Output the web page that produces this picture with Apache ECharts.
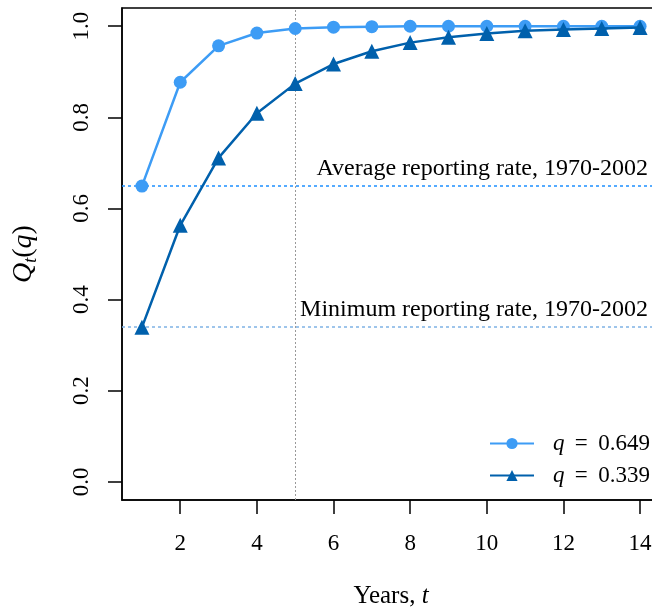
<!DOCTYPE html>
<html><head><meta charset="utf-8">
<script src="https://cdn.jsdelivr.net/npm/echarts@6/dist/echarts.min.js"></script>
<style>html,body{margin:0;padding:0;background:#fff}#c{width:652px;height:613px}</style>
</head><body><div id="c"></div>
<script>
const years = [1,2,3,4,5,6,7,8,9,10,11,12,13,14];
const qHigh = [0.649,0.877,0.957,0.985,0.995,0.998,0.999,1.0,1.0,1.0,1.0,1.0,1.0,1.0];
const qLow  = [0.339,0.563,0.711,0.809,0.874,0.917,0.945,0.964,0.976,0.984,0.990,0.993,0.995,0.997];
const xTicks = [2,4,6,8,10,12,14];
const yTicks = [0,0.2,0.4,0.6,0.8,1.0];
const avgRate = 0.649, minRate = 0.339, refYear = 5;
const seriesNames = ['q = 0.649','q = 0.339'];

const F = 'Liberation Serif';
const chart = echarts.init(document.getElementById('c'));
chart.setOption({
  animation:false,
  textStyle:{fontFamily:F,color:'#000'},
  grid:{left:122,top:8,right:-8,bottom:113,show:true,borderColor:'#000',borderWidth:1.5,
    containLabel:false,outerBoundsMode:'none'},
  xAxis:{type:'value',min:0.48,max:14.52,
    axisLine:{show:true,onZero:false,lineStyle:{color:'#000',width:1.5}},
    axisTick:{show:true,length:14,customValues:xTicks,lineStyle:{color:'#000',width:1.5}},
    axisLabel:{customValues:xTicks,margin:32,fontSize:23,fontFamily:F,color:'#000'},
    splitLine:{show:false},
    name:'{n|Years, }{i|t}',nameLocation:'middle',nameGap:84,
    nameTextStyle:{rich:{n:{fontSize:25,fontFamily:F,color:'#000'},i:{fontSize:25,fontFamily:F,fontStyle:'italic',color:'#000'}}}
  },
  yAxis:{type:'value',min:-0.04,max:1.04,
    axisLine:{show:true,onZero:false,lineStyle:{color:'#000',width:1.5}},
    axisTick:{show:true,length:14,customValues:yTicks,lineStyle:{color:'#000',width:1.5}},
    axisLabel:{customValues:yTicks,rotate:90,margin:29,fontSize:23,fontFamily:F,color:'#000',
      formatter:v=>v.toFixed(1)},
    splitLine:{show:false},
    name:'{i|Q}{s|t}{n|(}{i|q}{n|)}',nameLocation:'middle',nameGap:82,nameRotate:90,
    nameTextStyle:{rich:{
      n:{fontSize:28,fontFamily:F,color:'#000',lineHeight:32},
      i:{fontSize:28,fontFamily:F,fontStyle:'italic',color:'#000',lineHeight:32},
      s:{fontSize:18,fontFamily:F,fontStyle:'italic',color:'#000',verticalAlign:'bottom',lineHeight:32}}}
  },
  legend:{orient:'vertical',left:489,top:432,padding:0,itemWidth:44,itemHeight:14,itemGap:9,
    data:seriesNames,
    formatter:n=>'{i|q}{n|\u2009 = \u2009'+n.slice(4)+'}',
    textStyle:{padding:[0,0,0,14],rich:{
      i:{fontSize:23,fontFamily:F,fontStyle:'italic',color:'#000'},
      n:{fontSize:23,fontFamily:F,color:'#000'}}}
  },
  series:[
    {name:seriesNames[0],type:'line',data:years.map((y,i)=>[y,qHigh[i]]),
     symbol:'circle',symbolSize:13,color:'#3d9cf5',lineStyle:{width:2.5,color:'#3d9cf5'},
     itemStyle:{color:'#3d9cf5'},z:3,
     markLine:{silent:true,symbol:'none',z:1,
       lineStyle:{color:'#1e90ff',type:[3,3],width:1.5,opacity:1},
       label:{show:true,position:'insideEndTop',fontSize:24,fontFamily:F,color:'#000',distance:[12,5]},
       data:[{yAxis:avgRate,label:{formatter:'Average reporting rate, 1970-2002'}}]}
    },
    {name:seriesNames[1],type:'line',data:years.map((y,i)=>[y,qLow[i]]),
     symbol:'triangle',symbolSize:15,color:'#0060ac',lineStyle:{width:2.5,color:'#0060ac'},
     itemStyle:{color:'#0060ac'},z:4,
     markLine:{silent:true,symbol:'none',z:1,
       lineStyle:{color:'#7fb2e5',type:[3,3],width:1.5,opacity:1},
       label:{show:true,position:'insideEndTop',fontSize:24,fontFamily:F,color:'#000',distance:[12,5]},
       data:[
        {yAxis:minRate,label:{formatter:'Minimum reporting rate, 1970-2002'}},
        {xAxis:refYear,lineStyle:{color:'#999',type:[2,2],width:1,opacity:1},label:{show:false}}
       ]}
    }
  ]
});
</script></body></html>
